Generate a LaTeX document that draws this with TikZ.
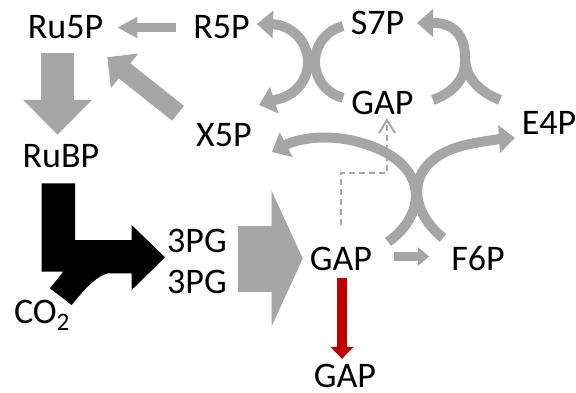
\documentclass[tikz,border=0pt]{standalone}
\usepackage{fontspec}
\setmainfont{Carlito}
\usetikzlibrary{arrows.meta}
\definecolor{pathgray}{HTML}{A6A6A6}
\definecolor{outred}{HTML}{C00000}

\begin{document}
\begin{tikzpicture}[x=1pt, y=1pt,
    met/.style={font=\fontsize{36}{40}\selectfont, inner sep=0pt,
        text height=23pt, text depth=0pt, anchor=base},
    flux/.style={draw=pathgray, line width=10pt},
    headtip/.style={-{Triangle[width=27pt, length=16pt]}},
    ]

\useasboundingbox (0,0) rectangle (576,392);

    % metabolites
    \node[met] (ru5p) at (65.5,353) {Ru5P};
    \node[met] (r5p)  at (221.5,353) {R5P};
    \node[met] (s7p)  at (377.5,357) {S7P};
    \node[met] (gapt) at (382.5,278) {GAP};
    \node[met] (e4p)  at (549,258) {E4P};
    \node[met] (x5p)  at (224,245.5) {X5P};
    \node[met] (rubp) at (61,225) {RuBP};
    \node[met] (pga)  at (197,140) {3PG};
    \node[met] (pgb)  at (197,99) {3PG};
    \node[met] (gapm) at (341,122) {GAP};
    \node[met] (f6p)  at (478,122) {F6P};
    \node[met] (gapb) at (345,5) {GAP};
    \node[met] (co2)  at (42,69) {CO\textsubscript{2}};

    % straight block arrows
    \draw[pathgray, line width=9pt, -{Triangle[width=20pt, length=20pt]},
          shorten <=17pt, shorten >=14pt]
        (r5p.west) -- (ru5p.east);

    \draw[pathgray, line width=33pt, -{Triangle[width=67pt, length=35pt]},
          shorten <=14pt, shorten >=9pt]
        ([xshift=-8pt]ru5p.south) -- ([xshift=-8pt]ru5p.south |- rubp.north);

    \draw[pathgray, line width=19pt, -{Triangle[width=43pt, length=22pt]}]
        ([shift={(-18pt,10pt)}]x5p.north west) -- ([shift={(4pt,-18pt)}]ru5p.south east);

    \draw[pathgray, line width=66pt, -{Triangle[width=134pt, length=31pt]},
          shorten >=7pt]
        ([xshift=11pt]pga.east |- gapm.west) -- (gapm.west);

    \draw[pathgray, line width=9pt, -{Triangle[width=18pt, length=11pt]},
          shorten <=22pt, shorten >=22pt]
        ([yshift=2pt]gapm.east) -- ([yshift=2pt]f6p.west);

    \draw[outred, line width=10pt, -{Triangle[width=23pt, length=12pt]},
          shorten <=8pt, shorten >=5pt]
        ([xshift=1pt]gapm.south) -- ([xshift=1pt]gapm.south |- gapb.north);

    \draw[pathgray, line width=2pt, dash pattern=on 6pt off 4pt,
          -{Straight Barb[length=13pt, width=16pt]}]
        ([yshift=22pt]gapm.north) -- ++(0,52pt) -| ([shift={(4.5pt,-4pt)}]gapt.south);

    % carboxylation
    \fill
        (41.7,208.7) -- (75,208.7) -- (75,152) -- (131.7,152) -- (131.7,167)
        -- (165,134.7) -- (131.7,102) -- (131.7,118.7) -- (108,118.7)
        .. controls (96,116) and (82,100) .. (71.7,87)
        -- (50,103.7) -- (63.3,120.3) -- (41.7,120.3) -- cycle;

    % S7P + GAP -> R5P + X5P
    \draw[flux, {Triangle[width=27pt, length=16pt]}-{Triangle[width=27pt, length=16pt]}]
        (259,287) -- (276.6,292.6) arc[start angle=-80, end angle=80, radius=38]
        -- (257,368);
    \draw[flux]
        (352,330) ++(104:37) arc[start angle=104, end angle=256, radius=37];

    % E4P + GAP -> S7P
    \draw[flux, headtip]
        (500,292) .. controls (480,300) and (465,314) .. (465,335)
        .. controls (465,358) and (452,369) .. (434,369) -- (417,369);
    \draw[flux]
        (433,292) .. controls (452,299) and (465,312) .. (465,330);

    % F6P + GAP -> X5P + E4P
    \draw[flux, headtip]
        (388,150) .. controls (430,180) and (430,235) .. (350,252)
        .. controls (320,258) and (295,252) .. (272,240);
    \draw[flux, headtip]
        (443,154) .. controls (405,185) and (405,235) .. (470,248)
        .. controls (485,251) and (500,253) .. (515,254);

\end{tikzpicture}
\end{document}
